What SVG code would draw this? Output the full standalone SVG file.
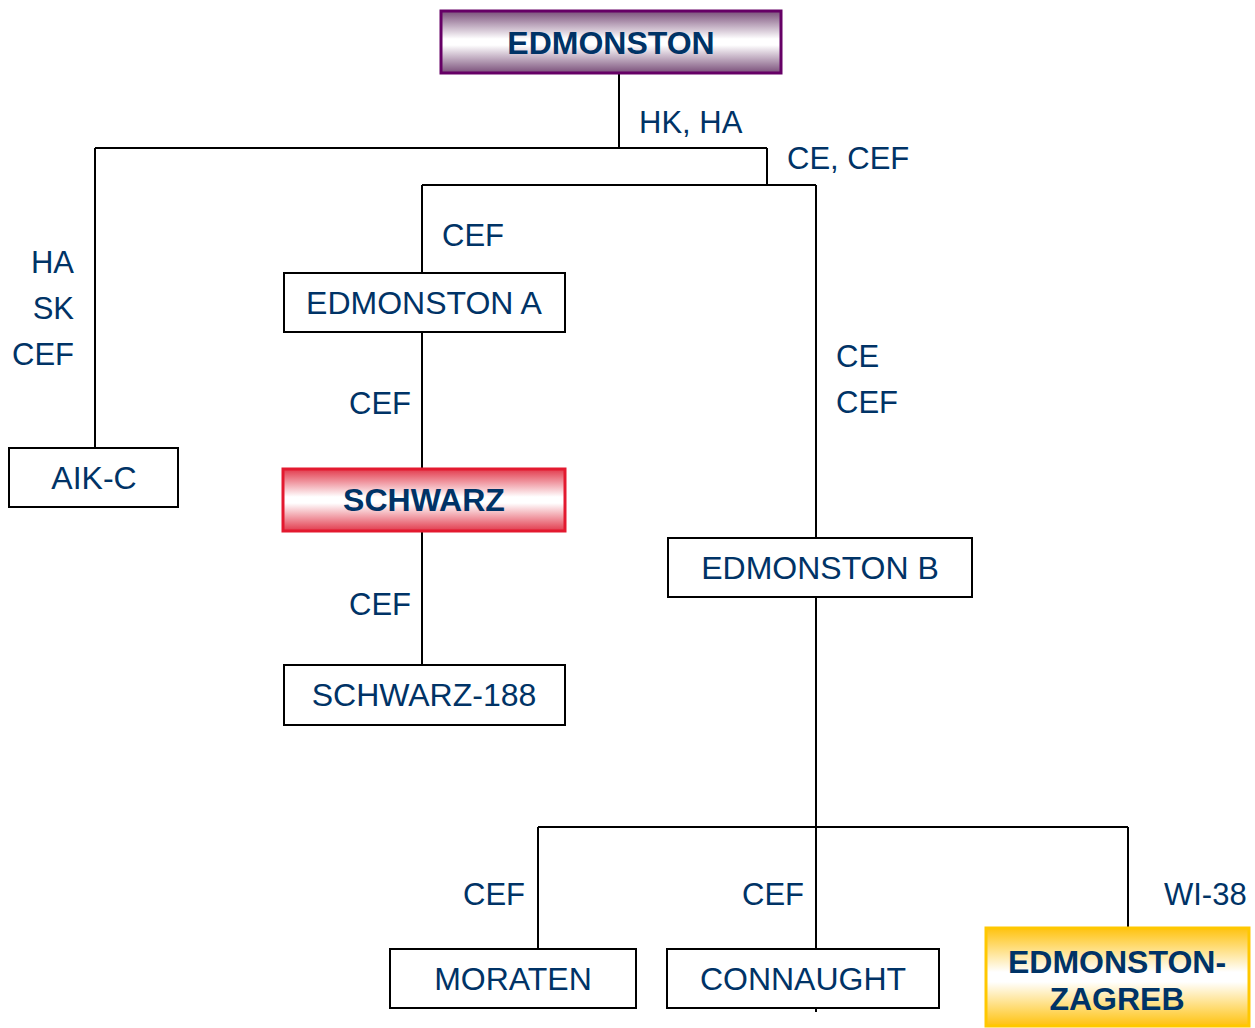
<svg xmlns="http://www.w3.org/2000/svg" width="1255" height="1028" viewBox="0 0 1255 1028">
<defs>
<linearGradient id="gPurple" x1="0" y1="0" x2="0" y2="1">
<stop offset="0" stop-color="#7a4f7a"/>
<stop offset="0.45" stop-color="#ffffff"/>
<stop offset="0.55" stop-color="#ffffff"/>
<stop offset="1" stop-color="#7a4f7a"/>
</linearGradient>
<linearGradient id="gRed" x1="0" y1="0" x2="0" y2="1">
<stop offset="0" stop-color="#e23a4c"/>
<stop offset="0.45" stop-color="#ffffff"/>
<stop offset="0.55" stop-color="#ffffff"/>
<stop offset="1" stop-color="#e23a4c"/>
</linearGradient>
<linearGradient id="gGold" x1="0" y1="0" x2="0" y2="1">
<stop offset="0" stop-color="#ffc20e"/>
<stop offset="0.45" stop-color="#ffffff"/>
<stop offset="0.55" stop-color="#ffffff"/>
<stop offset="1" stop-color="#ffc20e"/>
</linearGradient>
</defs>
<style>
text{font-family:"Liberation Sans",Arial,sans-serif;font-size:31px;fill:#003366}
.n{font-size:32px}
.b{font-weight:bold}
.m{text-anchor:middle}
.e{text-anchor:end}
.box{fill:#ffffff;stroke:#000000;stroke-width:2}
.line{fill:none;stroke:#000000;stroke-width:2}
</style>
<rect width="1255" height="1028" fill="#ffffff"/>
<g id="connectors">
<path class="line" d="M619 73V148M95 148H767M95 148V448M767 148V185M422 185H816M422 185V273M816 185V538"/>
<path class="line" d="M422 332V469M422 531V665"/>
<path class="line" d="M816 597V1012M538 827H1128M538 827V949M1128 827V928"/>
</g>
<g id="edge-labels">
<text x="639" y="133">HK, HA</text>
<text x="787" y="169">CE, CEF</text>
<text x="442" y="246">CEF</text>
<text class="e" x="74" y="273">HA</text>
<text class="e" x="74" y="319">SK</text>
<text class="e" x="74" y="365">CEF</text>
<text x="349" y="414">CEF</text>
<text x="836" y="367">CE</text>
<text x="836" y="413">CEF</text>
<text x="349" y="615">CEF</text>
<text x="463" y="905">CEF</text>
<text x="742" y="905">CEF</text>
<text x="1164" y="905">WI-38</text>
</g>
<g id="n-edmonston">
<rect x="441" y="11" width="340" height="62" fill="url(#gPurple)" stroke="#660066" stroke-width="3"/>
<text class="n b m" x="611" y="54">EDMONSTON</text>
</g>
<g id="n-edmonston-a">
<rect class="box" x="284" y="273" width="281" height="59"/>
<text class="n m" x="424" y="314">EDMONSTON A</text>
</g>
<g id="n-aikc">
<rect class="box" x="9" y="448" width="169" height="59"/>
<text class="n m" x="94" y="489">AIK-C</text>
</g>
<g id="n-schwarz">
<rect x="283" y="469" width="282" height="62" fill="url(#gRed)" stroke="#e3192f" stroke-width="3"/>
<text class="n b m" x="424" y="511">SCHWARZ</text>
</g>
<g id="n-schwarz-188">
<rect class="box" x="284" y="665" width="281" height="60"/>
<text class="n m" x="424" y="706">SCHWARZ-188</text>
</g>
<g id="n-edmonston-b">
<rect class="box" x="668" y="538" width="304" height="59"/>
<text class="n m" x="820" y="579">EDMONSTON B</text>
</g>
<g id="n-moraten">
<rect class="box" x="390" y="949" width="246" height="59"/>
<text class="n m" x="513" y="990">MORATEN</text>
</g>
<g id="n-connaught">
<rect class="box" x="667" y="949" width="272" height="59"/>
<text class="n m" x="803" y="990">CONNAUGHT</text>
</g>
<g id="n-edmonston-zagreb">
<rect x="986" y="928" width="263" height="98" fill="url(#gGold)" stroke="#ffc800" stroke-width="3"/>
<text class="n b m" x="1117" y="973">EDMONSTON-</text>
<text class="n b m" x="1117" y="1010">ZAGREB</text>
</g>
</svg>
